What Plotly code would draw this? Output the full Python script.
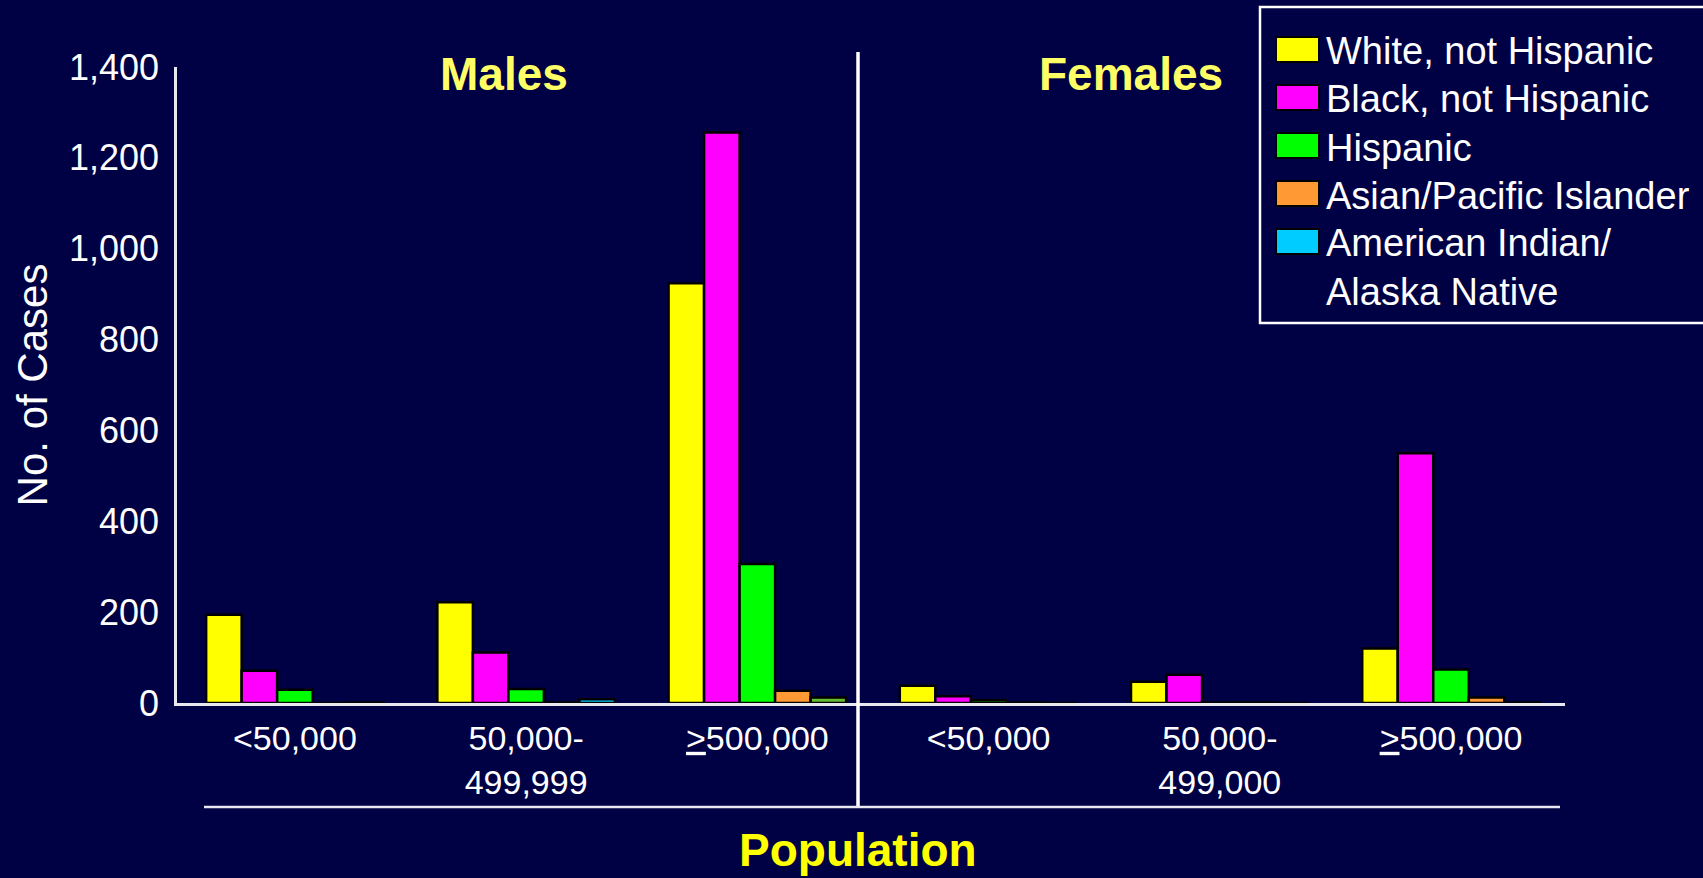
import plotly.graph_objects as go

# population groups (males first, then females)
categories = ["<50,000", "50,000-<br>499,999", "<u>></u>500,000",
              "<50,000", "50,000-<br>499,000", "<u>></u>500,000"]

white_not_hispanic = [194, 222, 924, 38, 47, 120]
black_not_hispanic = [71, 111, 1256, 15, 62, 550]
hispanic = [29, 31, 306, 6, 1, 74]
asian_pacific = [0, 1, 27, 1, 1, 12]
american_indian = [1, 8, 12, 0, 0, 1]

y_ticks = [0, 200, 400, 600, 800, 1000, 1200, 1400]

series = [
    ("White, not Hispanic", white_not_hispanic, "#ffff00"),
    ("Black, not Hispanic", black_not_hispanic, "#ff00ff"),
    ("Hispanic", hispanic, "#00ff00"),
    ("Asian/Pacific Islander", asian_pacific, "#ff9933"),
    ("American Indian/<br>Alaska Native", american_indian,
     ["#00ccff", "#00ccff", "#66bb33", "#00ccff", "#00ccff", "#00ccff"]),
]

BG = "#000044"
FONT = "Liberation Sans, Arial, sans-serif"
x_pos = list(range(len(categories)))

fig = go.Figure()
for name, vals, color in series:
    fig.add_trace(go.Bar(x=x_pos, y=vals, name=name,
                         marker=dict(color=color, line=dict(color="black", width=2.5)),
                         showlegend=False))

# plot area in pixels: left 177, right 1565, top 67, bottom 703
W, H = 1703, 878
L, R, T, B = 177, 1565, 67, 703


def px(x):
    return (x - L) / (R - L)


def py(y):
    return (B - y) / (B - T)


shapes = [
    # divider between males and females
    dict(type="line", xref="paper", yref="paper", x0=px(858), x1=px(858),
         y0=py(52), y1=py(807), line=dict(color="white", width=3.5)),
    # line under the tick labels
    dict(type="line", xref="paper", yref="paper", x0=px(204), x1=px(1560),
         y0=py(807), y1=py(807), line=dict(color="#e8e8f0", width=2.5)),
    # legend box
    dict(type="rect", xref="paper", yref="paper", x0=px(1260), x1=px(1708),
         y0=py(323), y1=py(7), line=dict(color="white", width=2.5), fillcolor=BG),
]

annotations = [
    dict(text="<b>Males</b>", x=px(504), y=py(74), xref="paper", yref="paper",
         xanchor="center", yanchor="middle", showarrow=False,
         font=dict(family=FONT, size=46, color="#ffff66")),
    dict(text="<b>Females</b>", x=px(1131), y=py(74), xref="paper", yref="paper",
         xanchor="center", yanchor="middle", showarrow=False,
         font=dict(family=FONT, size=46, color="#ffff66")),
    dict(text="<b>Population</b>", x=px(858), y=py(850), xref="paper", yref="paper",
         xanchor="center", yanchor="middle", showarrow=False,
         font=dict(family=FONT, size=46, color="#ffff00")),
]

# hand-drawn legend (big swatches like the original slide)
for i, (name, vals, color) in enumerate(series):
    yc = 49.5 + 48 * i
    swatch = color if isinstance(color, str) else color[0]
    shapes.append(dict(type="rect", xref="paper", yref="paper",
                       x0=px(1276), x1=px(1319), y0=py(yc + 12.5), y1=py(yc - 12.5),
                       fillcolor=swatch, line=dict(color="black", width=2)))
    ty = yc if "<br>" not in name else yc + 24
    annotations.append(dict(text=name, x=px(1324), y=py(ty + 2), xref="paper", yref="paper",
                            xanchor="left", yanchor="middle", align="left", showarrow=False,
                            font=dict(family=FONT, size=38, color="white")))

fig.update_layout(
    width=W, height=H,
    margin=dict(l=L, r=W - R, t=T, b=H - B, autoexpand=False),
    paper_bgcolor=BG, plot_bgcolor=BG,
    barmode="group", bargap=0.232, bargroupgap=0,
    font=dict(family=FONT, color="white"),
    shapes=shapes, annotations=annotations,
)
fig.update_xaxes(range=[-0.51, 5.493], tickvals=x_pos, ticktext=categories,
                 showline=True, linecolor="#e8e8f0", linewidth=3, showgrid=False,
                 zeroline=False, ticks="", ticklabelstandoff=3,
                 tickfont=dict(family=FONT, size=34, color="white"))
fig.update_yaxes(range=[0, 1400], tickvals=y_ticks, tickformat=",",
                 showline=True, linecolor="#e8e8f0", linewidth=2.5, showgrid=False,
                 zeroline=False, ticks="", ticklabelstandoff=8,
                 tickfont=dict(family=FONT, size=36, color="white"),
                 title=dict(text="No. of Cases", standoff=9,
                            font=dict(family=FONT, size=42, color="white")))

# no page margin around the figure
fig.write_html("out.html", config={"displayModeBar": False},
               post_script="document.body.style.margin='0';")
